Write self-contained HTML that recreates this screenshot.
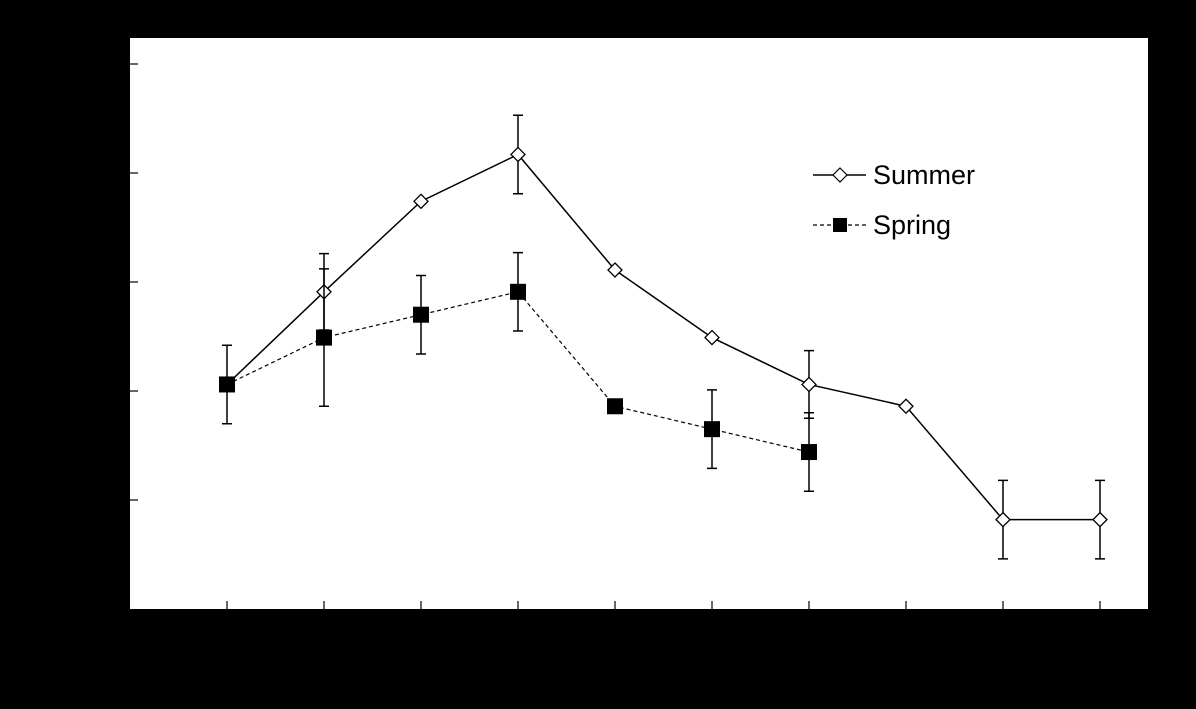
<!DOCTYPE html>
<html><head><meta charset="utf-8"><style>
html,body{margin:0;padding:0;background:#000;}
svg{display:block;}
text{font-family:"Liberation Sans",sans-serif;}
</style></head><body>
<svg id="chart" width="1196" height="709">
<rect x="0" y="0" width="1196" height="709" fill="#000"/>
<rect x="130" y="38" width="1018" height="571" fill="#fff"/>
<g id="axes"></g><g id="series"></g>
<g>
<g>
<line x1="813" y1="175" x2="866" y2="175" stroke="#000" stroke-width="1.5"/>
<path d="M840,168 L847,175 L840,182 L833,175 Z" fill="#fff" stroke="#000" stroke-width="1.2"/>
<text x="873" y="184" font-size="27" fill="#000">Summer</text>
</g>
<g>
<line x1="813" y1="225" x2="866" y2="225" stroke="#000" stroke-width="1.2" stroke-dasharray="4,3"/>
<rect x="833" y="218" width="14" height="14" fill="#000"/>
<text x="873" y="234" font-size="27" fill="#000">Spring</text>
</g>
</g>
</svg>
<script>
const categories=[1,2,3,4,5,6,7,8,9,10];
const summerValues=[2.06,2.91,3.74,4.17,3.11,2.49,2.06,1.86,0.82,0.82];
const summerErrors=[0,0.35,0,0.36,0,0,0.31,0,0.36,0.36];
const springValues=[2.06,2.49,2.70,2.91,1.86,1.65,1.44];
const springErrors=[0.36,0.63,0.36,0.36,0,0.36,0.36];
const yTicks=[1,2,3,4,5];
const NS='http://www.w3.org/2000/svg';
function xs(i){return 227+(i)*97;}
function ys(v){return 609-v*109;}
function mk(tag,attrs,parent){const e=document.createElementNS(NS,tag);for(const k in attrs)e.setAttribute(k,attrs[k]);parent.appendChild(e);return e;}
const axes=document.getElementById('axes'),ser=document.getElementById('series');
yTicks.forEach(t=>{const l=mk('line',{x1:130,x2:138,y1:ys(t),y2:ys(t),stroke:'#000','stroke-width':1.2},axes);

});
categories.forEach((c,i)=>{const l=mk('line',{x1:xs(i),x2:xs(i),y1:601,y2:609,stroke:'#000','stroke-width':1.2},axes);

});
function draw(vals,errs,name,dash,marker){
 const g=mk('g',{},ser);
 
 
 const pts=vals.map((v,i)=>xs(i)+','+ys(v)).join(' ');
 const pl=mk('polyline',{points:pts,fill:'none',stroke:'#000','stroke-width':dash?1.2:1.5,'stroke-dasharray':dash||'none'},g);
 
 
 vals.forEach((v,i)=>{
  if(errs[i]>0){const x=xs(i),a=ys(v+errs[i]),b=ys(v-errs[i]);
   const eb=mk('path',{d:`M${x},${a}V${b}M${x-5},${a}H${x+5}M${x-5},${b}H${x+5}`,stroke:'#000','stroke-width':1.5,fill:'none'},g);
   
   }
 });
 vals.forEach((v,i)=>{const x=xs(i),y=ys(v);let m;
  if(marker==='diamond')m=mk('path',{d:`M${x},${y-7}L${x+7},${y}L${x},${y+7}L${x-7},${y}Z`,fill:'#fff',stroke:'#000','stroke-width':1.3},g);
  else m=mk('rect',{x:x-8,y:y-8,width:16,height:16,fill:'#000'},g);
  
  });
}
draw(summerValues,summerErrors,'summer',null,'diamond');
draw(springValues,springErrors,'spring','4,3','square');
</script>
</body></html>
